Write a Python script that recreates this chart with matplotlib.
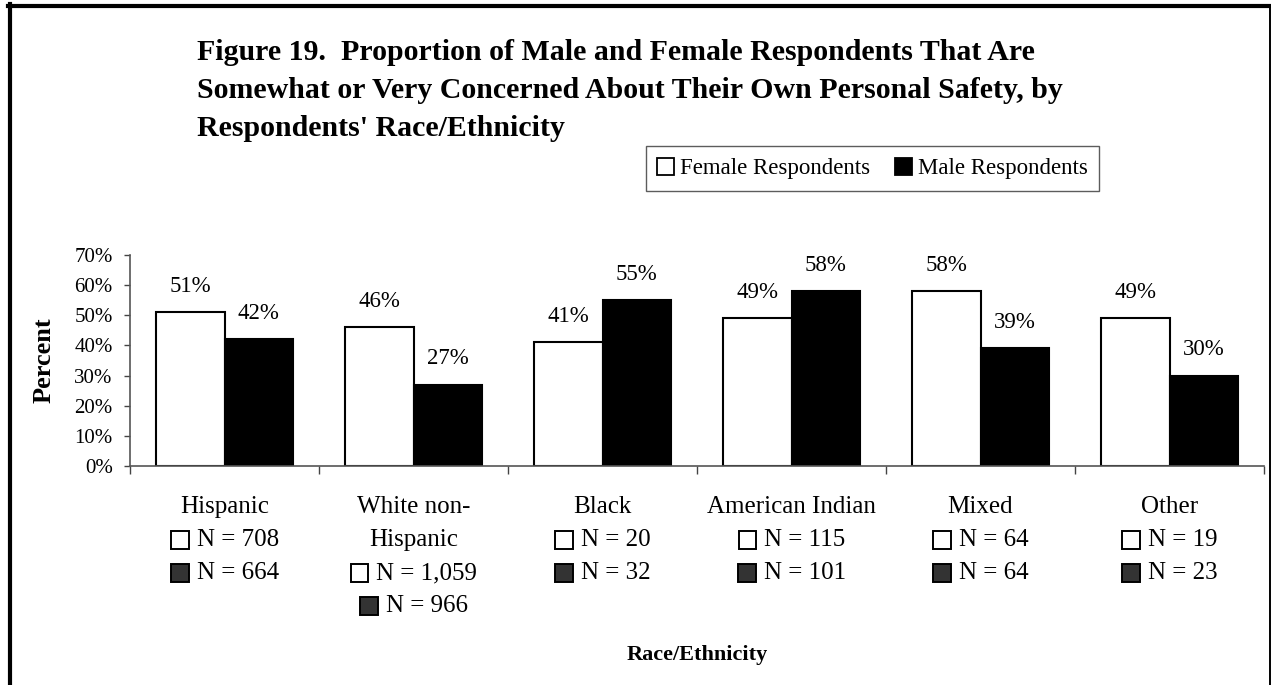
import matplotlib
matplotlib.use('Agg')
import matplotlib.pyplot as plt
from matplotlib.patches import Patch, Rectangle
from matplotlib.lines import Line2D
from matplotlib.offsetbox import HPacker, TextArea, DrawingArea, AnnotationBbox

plt.rcParams['font.family'] = ['Liberation Serif', 'DejaVu Serif']

# data
groups = ['Hispanic', 'White non-\nHispanic', 'Black', 'American Indian', 'Mixed', 'Other']
female = [51, 46, 41, 49, 58, 49]
male = [42, 27, 55, 58, 39, 30]
n_female = ['708', '1,059', '20', '115', '64', '19']
n_male = ['664', '966', '32', '101', '64', '23']
yticks = [0, 10, 20, 30, 40, 50, 60, 70]

W, H = 1271, 685
fig = plt.figure(figsize=(W / 100, H / 100), dpi=100)
fig.patch.set_facecolor('white')

# frame around the figure (left thick, top thick, right thin, no bottom)
fig.add_artist(Line2D([8 / W, 1271 / W], [1 - 6 / H, 1 - 6 / H], color='black', lw=3.0,
                      transform=fig.transFigure))
fig.add_artist(Line2D([10 / W, 10 / W], [0, 1 - 4 / H], color='black', lw=3.0,
                      transform=fig.transFigure))
fig.add_artist(Line2D([1269.5 / W, 1269.5 / W], [0, 1 - 6 / H], color='black', lw=1.4,
                      transform=fig.transFigure))

ax = fig.add_axes([130 / W, 1 - 466 / H, (1264 - 130) / W, (466 - 255) / H])
x = list(range(len(groups)))
bw = 0.362
ax.bar([i - bw / 2 for i in x], female, width=bw, color='white', edgecolor='black', lw=1.5,
       zorder=3)
ax.bar([i + bw / 2 for i in x], male, width=bw, color='black', edgecolor='black', lw=1.5,
       zorder=3)

for i in x:
    ax.annotate(f'{female[i]}%', (i - bw / 2, female[i]), xytext=(0, 11),
                textcoords='offset points', ha='center', va='bottom', fontsize=16.5)
    ax.annotate(f'{male[i]}%', (i + bw / 2, male[i]), xytext=(0, 11),
                textcoords='offset points', ha='center', va='bottom', fontsize=16.5)

ax.set_xlim(-0.5, len(groups) - 0.5)
ax.set_ylim(0, 70)
ax.set_yticks(yticks)
ax.set_yticklabels([f'{v}%' for v in yticks], fontsize=15)
ax.set_xticks([i - 0.5 for i in range(len(groups) + 1)])
ax.set_xticklabels([])
ax.tick_params(axis='y', direction='out', length=4.5, width=1, color='#444', pad=8)
ax.tick_params(axis='x', direction='out', length=6, width=1, color='#444')
for s in ['top', 'right']:
    ax.spines[s].set_visible(False)
for s in ['left', 'bottom']:
    ax.spines[s].set_color('#555')
    ax.spines[s].set_linewidth(1.2)
ax.spines['bottom'].set_zorder(4)

fig.text(44 / W, 1 - 360 / H, 'Percent', fontsize=19, fontweight='bold', rotation=90,
         ha='center', va='center')
fig.text(697 / W, 1 - 655 / H, 'Race/Ethnicity', fontsize=16, fontweight='bold',
         ha='center', va='center')

# category labels with sample sizes
px2pt = 72 / 100
line_gap = 33
first = 41


def marker(face):
    da = DrawingArea(14, 14, 0, 0)
    da.add_artist(Rectangle((0.6, 0.6), 12.8, 12.8, facecolor=face, edgecolor='black', lw=1.4))
    return da


for i in x:
    name_lines = groups[i].split('\n')
    off = first
    for ln in name_lines:
        ax.annotate(ln, (i, 0), xycoords=('data', 'axes fraction'),
                    xytext=(0, -off * px2pt), textcoords='offset points',
                    ha='center', va='center', fontsize=18, annotation_clip=False)
        off += line_gap
    for face, n in [('white', n_female[i]), ('#333333', n_male[i])]:
        box = HPacker(children=[marker(face), TextArea(f'N = {n}', textprops=dict(fontsize=18))],
                      align='center', pad=0, sep=5)
        ab = AnnotationBbox(box, (i, 0), xycoords=('data', 'axes fraction'),
                            xybox=(0, -off * px2pt), boxcoords='offset points',
                            frameon=False, box_alignment=(0.5, 0.5), annotation_clip=False)
        ax.add_artist(ab)
        off += line_gap

# title
title_lines = ['Figure 19.  Proportion of Male and Female Respondents That Are',
               'Somewhat or Very Concerned About Their Own Personal Safety, by',
               "Respondents' Race/Ethnicity"]
for k, t in enumerate(title_lines):
    fig.text(197 / W, 1 - (53 + 38 * k) / H, t, fontsize=21.5, fontweight='bold',
             ha='left', va='center')

handles = [Patch(facecolor='white', edgecolor='black', lw=1.3, label='Female Respondents'),
           Patch(facecolor='black', edgecolor='black', lw=1.3, label='Male Respondents')]
leg = fig.legend(handles=handles, loc='center', bbox_to_anchor=(872.5 / W, 1 - 168.5 / H),
                 ncol=2, fontsize=16.5, frameon=True, fancybox=False, handlelength=0.75,
                 handleheight=0.75, handletextpad=0.25, columnspacing=1.1, borderpad=0.5,
                 borderaxespad=0)
leg.get_frame().set_edgecolor('#333')
leg.get_frame().set_linewidth(1.0)

fig.savefig('out.png', dpi=100)
